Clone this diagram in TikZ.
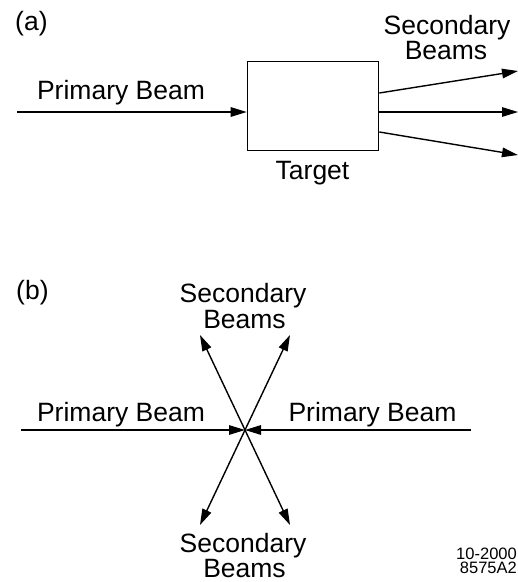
\documentclass[tikz,border=0pt]{standalone}
\usepackage{fontspec}
\setmainfont{Liberation Sans}
\usetikzlibrary{arrows.meta}
\begin{document}
\begin{tikzpicture}[x=1pt,y=-1pt,
  font=\fontsize{26.5}{28}\selectfont,
  beam/.style={line width=1.4pt},
  arr/.style={beam,-{Triangle[length=16pt,width=9.5pt]}},
  lbl/.style={inner sep=0pt, anchor=base},
  small/.style={inner sep=0pt, align=right, font=\fontsize{16.5}{14}\selectfont},
]
\useasboundingbox (0,0) rectangle (518,582);
% ---------- (a) ----------
\node[lbl, anchor=base west] (la) at (15,30) {(a)};
\node[draw, line width=1.6pt, minimum width=131pt, minimum height=89pt, inner sep=0pt] (target) at (313,106) {};
\node[lbl] (ta) at (312.5,179) {Target};
\node[lbl] (pba) at (121,99) {Primary Beam};
\node[lbl] (sa1) at (447,34) {Secondary};
\node[lbl] (sa2) at (446,59) {Beams};
\coordinate (pin) at (17,112);
\coordinate (o1s) at (target.east |- 0,93);
\coordinate (o2s) at (target.east |- 0,112);
\coordinate (o3s) at (target.east |- 0,132);
\coordinate (o1) at (518,71);
\coordinate (o2) at (518,112);
\coordinate (o3) at (518,155);
\draw[arr] (pin) -- (target.west |- pin);
\draw[arr] (o1s) -- (o1);
\draw[arr] (o2s) -- (o2);
\draw[arr] (o3s) -- (o3);
% ---------- (b) ----------
\node[lbl, anchor=base west] (lb) at (16,299) {(b)};
\node[lbl] (sb1) at (243,302) {Secondary};
\node[lbl] (sb2) at (244.5,328) {Beams};
\node[lbl] (pbl) at (121,421) {Primary Beam};
\node[lbl] (pbr) at (372.5,421) {Primary Beam};
\node[lbl] (sc1) at (243,552) {Secondary};
\node[lbl] (sc2) at (244.5,577) {Beams};
\coordinate (c) at (245,430);
\coordinate (l) at (21,430);
\coordinate (r) at (471,430);
\coordinate (ul) at (200,335);
\coordinate (ur) at (290,335);
\coordinate (dl) at (200,525);
\coordinate (dr) at (290,525);
\draw[arr] (l) -- (c);
\draw[arr] (r) -- (c);
\draw[arr] (c) -- (ul);
\draw[arr] (c) -- (ur);
\draw[arr] (c) -- (dl);
\draw[arr] (c) -- (dr);
\node[small, anchor=north east] (date) at (517,548) {10-2000\\8575A2};
\end{tikzpicture}
\end{document}
